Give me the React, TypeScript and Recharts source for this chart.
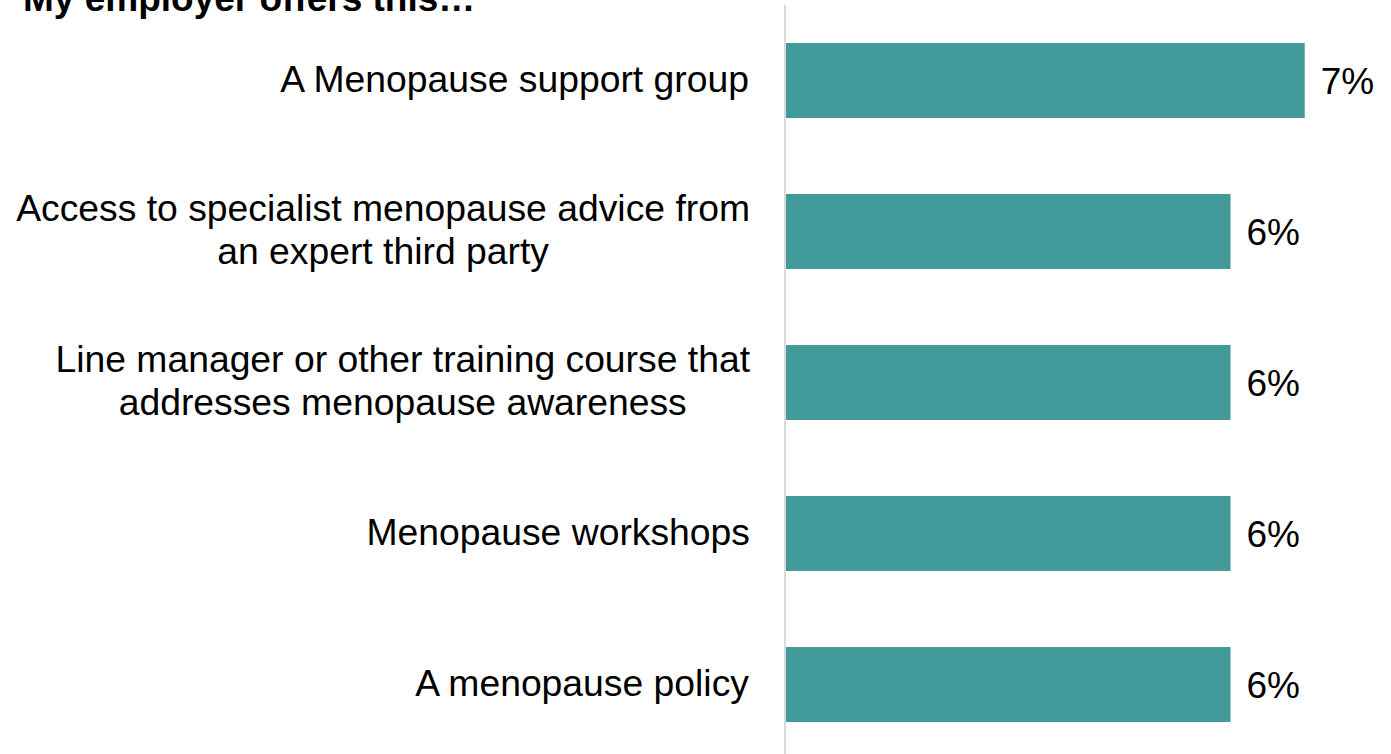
import { Bar, BarChart, LabelList, XAxis, YAxis } from "recharts";

const title = "My employer offers this…";
const categories = [
  "A Menopause support group",
  "Access to specialist menopause advice from\nan expert third party",
  "Line manager or other training course that\naddresses menopause awareness",
  "Menopause workshops",
  "A menopause policy",
];
const values = [7, 6, 6, 6, 6];

const FONT = "'Liberation Sans', Arial, sans-serif";
const FONT_SIZE = 37.3;
const TEAL = "#439a9a";

let ctx: CanvasRenderingContext2D | null = null;
function measure(text: string) {
  if (!ctx) {
    ctx = document.createElement("canvas").getContext("2d");
  }
  if (!ctx) return text.length * FONT_SIZE * 0.5;
  ctx.font = `${FONT_SIZE}px ${FONT}`;
  return ctx.measureText(text).width;
}

// multi-line labels: centred lines, block right-aligned near the axis
function CategoryTick(props: any) {
  const { y, payload } = props;
  const lines: string[] = String(payload.value).split("\n");
  const right = 750;
  const widest = Math.max(...lines.map(measure));
  const cx = right - widest / 2;
  const lineGap = 43;
  const first = y + 11 - ((lines.length - 1) * lineGap) / 2;
  return (
    <g>
      {lines.map((line, i) => (
        <text
          key={line}
          x={cx}
          y={first + i * lineGap}
          textAnchor="middle"
          fill="#000"
          fontSize={FONT_SIZE}
          fontFamily={FONT}
        >
          {line}
        </text>
      ))}
    </g>
  );
}

function ValueLabel(props: any) {
  const { x, y, width, height, value } = props;
  return (
    <text
      x={x + width + 16}
      y={y + height / 2 + 13}
      fill="#000"
      fontSize={37}
      fontFamily={FONT}
    >
      {`${value}%`}
    </text>
  );
}

export default function App() {
  const data = categories.map((name, i) => ({ name, value: values[i] }));

  return (
    <div style={{ position: "absolute", left: 0, top: 0, width: 1391, height: 754, overflow: "hidden", background: "#fff" }}>
      <BarChart
        width={1391}
        height={760}
        data={data}
        layout="vertical"
        margin={{ top: 5, right: 12, left: 0, bottom: 0 }}
        barCategoryGap={0}
      >
        <XAxis type="number" domain={[0, 8]} hide />
        <YAxis
          type="category"
          dataKey="name"
          width={785}
          tickLine={false}
          axisLine={{ stroke: "#d9d9d9", strokeWidth: 2 }}
          tick={<CategoryTick />}
          interval={0}
        />
        <Bar dataKey="value" fill={TEAL} barSize={75} isAnimationActive={false}>
          <LabelList dataKey="value" content={<ValueLabel />} />
        </Bar>
      </BarChart>
      <svg width={1391} height={40} style={{ position: "absolute", left: 0, top: 0 }}>
        <text x={23} y={11} fontSize={37} fontWeight="bold" fontFamily={FONT} fill="#000">
          {title}
        </text>
      </svg>
    </div>
  );
}
